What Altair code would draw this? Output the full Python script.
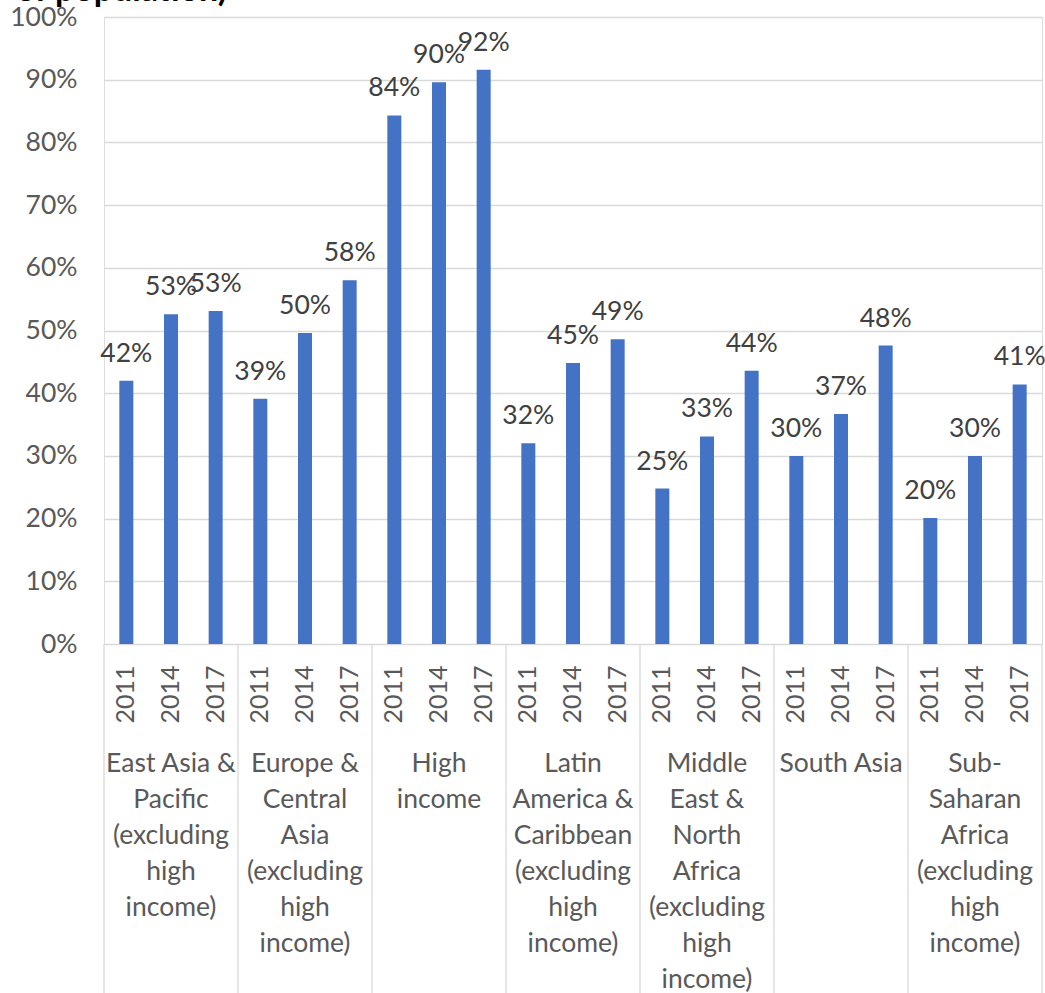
import altair as alt
import pandas as pd

# ---- data ----
regions = [
    "East Asia & Pacific",
    "Europe & Central Asia",
    "High income",
    "Latin America & Caribbean",
    "Middle East & North Africa",
    "South Asia",
    "Sub-Saharan Africa",
]
region_labels = [
    "East Asia &\nPacific\n(excluding\nhigh\nincome)",
    "Europe &\nCentral\nAsia\n(excluding\nhigh\nincome)",
    "High\nincome",
    "Latin\nAmerica &\nCaribbean\n(excluding\nhigh\nincome)",
    "Middle\nEast &\nNorth\nAfrica\n(excluding\nhigh\nincome)",
    "South Asia",
    "Sub-\nSaharan\nAfrica\n(excluding\nhigh\nincome)",
]
years = ["2011", "2014", "2017"]
v2011 = [42.0, 39.1, 84.3, 32.0, 24.8, 30.0, 20.1]
v2014 = [52.6, 49.6, 89.6, 44.8, 33.1, 36.7, 30.0]
v2017 = [53.1, 58.0, 91.6, 48.6, 43.6, 47.6, 41.4]
y_ticks = [0, 0.1, 0.2, 0.3, 0.4, 0.5, 0.6, 0.7, 0.8, 0.9, 1.0]
title_text = "of population)"

# ---- build table ----
rows = []
for i, r in enumerate(regions):
    for y, vals in zip(years, [v2011, v2014, v2017]):
        rows.append({
            "key": f"{r}|{y}",
            "region": r,
            "year": y,
            "value": vals[i] / 100.0,
            "label": region_labels[i],
            "last": r == regions[-1] and y == "2017",
        })
df = pd.DataFrame(rows)
order = list(df["key"])

W, H = 938, 627
FONT = "Lato"
FS = 26.5

x_enc = alt.X(
    "key:N",
    sort=order,
    scale=alt.Scale(paddingInner=0, paddingOuter=0),
    axis=alt.Axis(
        title=None,
        labelExpr="split(datum.value, '|')[1]",
        labelAngle=-90,
        labelAlign="right",
        labelBaseline="middle",
        labelPadding=21,
        labelFontSize=25,
        labelFont=FONT,
        labelColor="#595959",
        ticks=False,
        domain=False,
        grid=False,
    ),
)
y_enc = alt.Y(
    "value:Q",
    scale=alt.Scale(domain=[0, 1], nice=False),
    axis=alt.Axis(
        title=None,
        values=y_ticks,
        format=".0%",
        labelFontSize=FS,
        labelFont=FONT,
        labelColor="#595959",
        labelPadding=27,
        ticks=False,
        domain=False,
        grid=True,
        gridColor="#d9d9d9",
        gridWidth=1.3,
    ),
)

base = alt.Chart(df)

bars = base.mark_bar(size=14, color="#4472C4").encode(x=x_enc, y=y_enc)

labels = base.mark_text(
    dy=-19, baseline="alphabetic", fontSize=FS, font=FONT, color="#404040"
).encode(
    x=alt.X("key:N", sort=order),
    y="value:Q",
    text=alt.Text("value:Q", format=".0%"),
)

seps = base.transform_filter("datum.year == '2011'").mark_rule(
    color="#d9d9d9", strokeWidth=1.3
).encode(
    x=alt.X("key:N", sort=order, bandPosition=0),
    y=alt.value(H),
    y2=alt.value(H + 360),
)
sep_end = base.transform_filter("datum.last").mark_rule(
    color="#d9d9d9", strokeWidth=1.3
).encode(
    x=alt.X("key:N", sort=order, bandPosition=1),
    y=alt.value(H),
    y2=alt.value(H + 360),
)

group_text = base.transform_filter("datum.year == '2014'").mark_text(
    lineBreak="\n", baseline="alphabetic", align="center",
    fontSize=FS, font=FONT, color="#595959", lineHeight=36,
).encode(
    x=alt.X("key:N", sort=order),
    y=alt.value(H + 128),
    text="label:N",
)

title = alt.Chart(pd.DataFrame({"t": [title_text]})).mark_text(
    align="left", baseline="alphabetic", fontSize=34, fontWeight="bold",
    font=FONT, color="#000000",
).encode(
    x=alt.value(16 - 104),
    y=alt.value(1 - 17),
    text="t:N",
)

chart = alt.layer(bars, labels, seps, sep_end, group_text, title).properties(
    width=W,
    height=H,
    autosize=alt.AutoSizeParams(type="none"),
    padding={"left": 104, "top": 17, "right": 3, "bottom": 349},
).configure_view(stroke=None).configure(background="white")

chart.save("out.html", embed_options={"renderer": "svg", "actions": False})
